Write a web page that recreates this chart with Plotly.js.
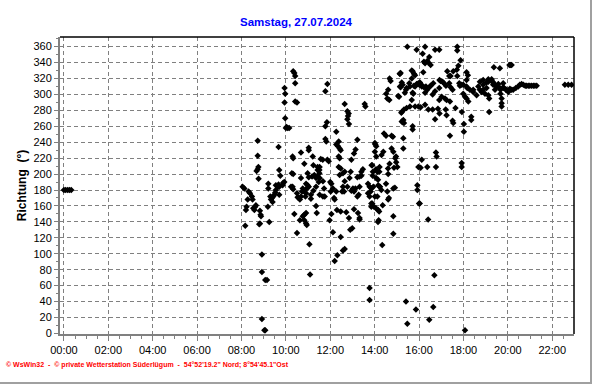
<!DOCTYPE html>
<html>
<head>
<meta charset="utf-8">
<script src="https://cdn.plot.ly/plotly-3.0.1.min.js"></script>
<style>
html,body{margin:0;padding:0;background:#fff;}
#wrap{position:relative;width:592px;height:384px;}
#chart{width:592px;height:384px;}
#border{position:absolute;left:0;top:0;width:590px;height:382px;border-right:2px solid #a0a0a0;border-bottom:2px solid #a0a0a0;pointer-events:none;}
</style>
</head>
<body>
<div id="wrap"><div id="chart"></div><div id="border"></div></div>
<script>
// Wind direction readings: [hour of day, direction in degrees]
const readingsNight = [[0.0,180],[0.08,180],[0.17,180],[0.25,180],[0.33,180]];

const readingsMorning = [
[8.05,184],[8.13,182],[8.17,135],[8.20,155],[8.23,159],[8.28,168],[8.32,178],[8.38,176],[8.47,172],[8.50,168],
[8.53,157],[8.58,155],[8.62,159],[8.65,161],[8.68,204],[8.73,242],[8.73,223],[8.76,209],[8.73,206],[8.77,194],
[8.80,137],[8.83,154],[8.83,138],[8.86,149],[8.88,147],[8.92,99],[8.92,77],[8.92,18],[9.03,4],[9.07,4],
[9.07,67],[9.15,67],[9.19,159],[9.21,188],[9.21,182],[9.25,140],[9.30,172],[9.33,168],[9.37,170],[9.40,165],
[9.43,172],[9.48,174],[9.52,177],[9.55,180],[9.55,186],[9.63,184],[9.67,187],[9.67,234],[9.70,184],[9.70,205],
[9.70,174],[9.75,198],[9.85,186],[9.88,189],[9.93,190],[9.94,290],[9.94,308],[9.97,301],[9.97,270],[10.0,258],
[10.03,259],[10.08,258],[10.15,258],[10.23,184],[10.27,201],[10.30,222],[10.30,184],[10.33,220],[10.33,181],[10.33,200],
[10.33,329],[10.38,327],[10.38,150],[10.42,323],[10.42,314],[10.42,291],[10.50,290],[10.50,126],[10.50,176],[10.53,171],
[10.58,170],[10.63,168],[10.63,142],[10.68,172],[10.68,195],[10.68,227],[10.73,178],[10.76,147],[10.76,182],[10.83,149],
[10.83,142],[10.83,213],[10.83,178],[10.88,172],[10.91,151],[10.91,138],[10.91,188],[10.91,176],[10.94,136],[10.94,182],
[10.98,186],[10.98,201],[11.03,233],[11.03,230],[11.03,184],[11.03,196],[11.06,112],[11.09,74],[11.13,174],[11.13,169],
[11.18,197],[11.21,222],[11.24,211],[11.24,179],[11.28,199],[11.36,195],[11.36,184],[11.36,160],[11.39,151],[11.43,197],
[11.43,205],[11.43,209],[11.48,190],[11.51,201],[11.51,205]
];

const readingsMidday = [
[11.52,209],[11.52,195],[11.52,174],[11.57,219],[11.66,218],[11.67,191],[11.67,172],[11.72,182],[11.75,172],[11.78,304],
[11.78,260],[11.78,244],[11.82,241],[11.85,265],[11.87,313],[11.87,218],[11.93,216],[11.97,142],[12.0,190],[12.02,178],
[12.05,188],[12.05,150],[12.12,127],[12.12,182],[12.17,170],[12.20,168],[12.20,91],[12.27,178],[12.27,253],[12.27,237],
[12.30,155],[12.32,98],[12.35,235],[12.38,222],[12.38,241],[12.38,209],[12.42,232],[12.42,220],[12.42,199],[12.47,230],
[12.47,153],[12.47,121],[12.47,207],[12.53,178],[12.57,104],[12.57,201],[12.57,184],[12.62,178],[12.65,106],[12.65,203],
[12.65,288],[12.65,191],[12.72,152],[12.77,279],[12.77,269],[12.77,184],[12.80,273],[12.83,276],[12.84,263],[12.84,145],
[12.87,195],[12.90,130],[12.92,203],[12.95,218],[12.95,179],[12.99,132],[13.02,182],[13.07,156],[13.07,178],[13.07,226],
[13.13,182],[13.14,231],[13.22,172],[13.22,243],[13.22,196],[13.25,151],[13.28,174],[13.32,184],[13.32,143],[13.32,145],
[13.32,197],[13.40,198],[13.40,203],[13.47,206],[13.55,288],[13.58,285],[13.70,188],[13.70,176],[13.77,184],[13.77,172],
[13.77,57],[13.77,42],[13.82,178],[13.85,182],[13.85,163],[13.85,159],[13.89,211],[13.89,163],[13.92,203],[13.97,159],
[14.03,237],[14.07,222],[14.07,235],[14.07,195],[14.12,172],[14.15,193],[14.15,140],[14.18,142],[14.22,209],[14.22,184],
[14.30,180],[14.34,111],[13.94,184],[14.01,172],[14.06,157],[14.16,186],[14.16,155],[14.20,153],[14.24,184],[14.36,161],
[14.51,188],[14.57,178],[14.61,168],[14.64,170],[14.84,182],[14.91,183],[14.84,147],[14.84,125],
[14.60,207],[14.67,213],[14.82,247],[14.93,220],[14.97,215],[15.02,209],[15.10,297],[15.13,326],[15.20,277],
[14.42,251],[14.51,248],[14.76,248],[14.01,239],[14.01,228],[14.31,224],[14.39,228],[14.76,232],[14.84,228],[14.96,222],
[13.86,211],[14.06,206],[14.21,203],[13.91,198],[14.12,203],[14.61,200],[14.87,208]
];

const readingsAfternoon = [
[15.29,245],[15.29,232],[16.12,218],[16.79,222],[16.76,227],[17.92,209],[17.92,214],[15.97,209],[16.07,208],[16.37,209],
[16.76,209],[17.39,248],[18.02,253],
[15.92,186],[15.92,180],[16.00,163],[16.03,163],[16.41,143],[16.69,73],[15.41,40],[15.47,12],[15.86,30],[16.64,33],
[16.46,17],[18.07,4],
[15.47,360],[15.89,356],[16.27,360],[16.16,351],[16.46,347],[16.22,341],[16.27,339],[16.37,342],[16.52,337],[16.42,340],
[16.72,356],[16.91,356],[17.72,360],[17.72,355],[17.87,343],[17.77,336],[15.17,327],[15.67,330],[15.77,326],[16.19,328],
[17.27,329],[17.54,329],[17.42,323],[17.70,331],[18.14,328],[18.20,324],[18.14,318],[17.36,323],[17.72,323],
[14.72,317],[14.61,306],[14.57,295],[15.06,298],[15.17,309],[15.26,312],[15.36,302],[15.41,306],[15.59,310],[15.71,302],
[15.77,311],[15.89,313],[16.01,312],[16.12,310],[16.22,309],[16.27,302],[16.37,306],[16.52,311],[16.61,300],[16.72,304],
[16.91,308],[16.97,317],[17.12,314],[17.21,311],[17.42,309],[17.51,306],[17.84,311],[17.99,312],[18.14,310],[18.29,306],
[18.44,303],[18.67,310],
[15.14,310],[15.22,315],[15.44,308],[15.56,314],[15.74,301],[15.67,293],[15.82,310],[15.97,314],[16.04,315],[16.11,312],
[16.31,310],[16.49,310],[16.64,314],[16.92,318],[17.06,316],[17.36,314],[16.91,293],[17.02,297],[17.17,295],[17.24,293],
[17.39,291],[17.81,314],[17.92,312],[18.17,308],[17.99,301],[18.07,297],[18.22,291],[18.14,295],[18.44,306],[18.59,299],
[15.14,326],[15.71,329],[15.82,324],[15.67,320],[14.67,320],[14.52,301],[14.66,293],
[15.22,278],[15.32,281],[15.44,283],[15.59,285],[15.82,285],[15.97,285],[16.07,284],[15.29,268],[15.32,264],[15.26,265],
[15.22,266],[15.71,260],[15.71,256],[16.27,287],[16.42,281],[16.61,281],[16.72,269],[16.85,282],[16.92,276],[17.20,281],
[17.24,274],[17.51,267],[17.54,264],[17.64,283],[17.93,278],[18.02,263],[18.35,272],[18.35,268]
];

const readingsEvening = [
[18.74,316],[18.89,318],[19.04,315],[19.12,319],[19.27,319],[19.31,316],[19.34,312],[18.74,306],[18.82,303],[18.89,306],
[18.97,301],[19.12,299],[19.16,295],[19.04,308],[19.42,306],[19.49,310],[19.57,313],[19.64,308],[19.67,301],[19.79,314],
[19.82,308],[19.91,306],[19.72,295],[19.72,289],[19.72,285],[19.16,278],[18.89,312],[19.12,316],[19.27,317],[19.37,314],
[19.49,310],[19.67,306],[19.79,309],[19.94,306],[20.09,307],
[19.37,334],[19.64,333],[20.07,337],[20.12,337],[20.17,337],
[20.02,303],[20.17,306],[20.24,306],[20.36,308],[20.47,310],[20.54,312],[20.62,313],[20.70,312],[20.78,311],[20.84,311],
[20.92,311],[20.99,311],[21.07,311],[21.15,311],[21.22,311],[21.30,311],
[22.57,312],[22.72,312],[22.87,312]
];

const tickHours = [0,2,4,6,8,10,12,14,16,18,20,22];
const tickLabels = ['00:00','02:00','04:00','06:00','08:00','10:00','12:00','14:00','16:00','18:00','20:00','22:00'];

const all = [].concat(readingsNight, readingsMorning, readingsMidday, readingsAfternoon, readingsEvening);
const trace = {
  type:'scatter', mode:'markers',
  x: all.map(p=>p[0]), y: all.map(p=>p[1]),
  marker:{symbol:'diamond', size:5, color:'#000000'},
  hoverinfo:'skip'
};

const gridCol = '#808080';
const fontFam = 'Liberation Sans, Arial, sans-serif';
const layout = {
  width:592, height:384,
  margin:{l:60, r:18, t:37, b:50, pad:0},
  paper_bgcolor:'#ffffff', plot_bgcolor:'#ffffff',
  showlegend:false,
  title:{text:'<b>Samstag, 27.07.2024</b>', font:{family:fontFam, size:11.5, color:'#0000ff'},
         x:0.5, xref:'container', xanchor:'center', y:1-22/384, yref:'container', yanchor:'middle'},
  xaxis:{
    range:[-0.176, 22.98], tickmode:'array', tickvals:tickHours, ticktext:tickLabels,
    showgrid:true, gridcolor:gridCol, griddash:'4px,3px', gridwidth:1,
    zeroline:false, showline:true, linecolor:gridCol, linewidth:2,
    ticks:'outside', ticklen:5, tickcolor:gridCol, tickwidth:1,
    tickfont:{family:fontFam, size:11, color:'#000'},
    minor:{dtick:0.5, tick0:0, ticklen:3, tickcolor:gridCol, showgrid:false, ticks:'outside'}
  },
  yaxis:{
    range:[-0.75, 372.1], tickmode:'linear', tick0:0, dtick:20,
    showgrid:true, gridcolor:gridCol, griddash:'4px,3px', gridwidth:1,
    zeroline:false, showline:true, linecolor:gridCol, linewidth:2,
    ticks:'outside', ticklen:4, tickcolor:gridCol, tickwidth:1,
    tickfont:{family:fontFam, size:11, color:'#000'},
    minor:{dtick:10, tick0:0, ticklen:2, tickcolor:gridCol, showgrid:false, ticks:'outside'},
    title:{text:'<b>Richtung  (°)</b>', font:{family:fontFam, size:12, color:'#000'}, standoff:4}
  },
  shapes:[
    {type:'line', xref:'paper', yref:'paper', x0:0, x1:1, y0:1, y1:1, line:{color:'#000', width:1.5}},
    {type:'line', xref:'paper', yref:'paper', x0:1, x1:1, y0:0, y1:1, line:{color:'#000', width:1.5}}
  ],
  annotations:[
    {xref:'paper', yref:'paper', x:(4-60)/514, y:(334-365)/297, xanchor:'left', yanchor:'middle', showarrow:false,
     text:'<b>© WsWin32  -  © private Wetterstation Süderlügum  -  54°52\'19.2" Nord; 8°54\'45.1"Ost</b>',
     font:{family:fontFam, size:7, color:'#ff0000'}}
  ]
};

Plotly.newPlot('chart', [trace], layout, {displayModeBar:false, staticPlot:true});
</script>
</body>
</html>
